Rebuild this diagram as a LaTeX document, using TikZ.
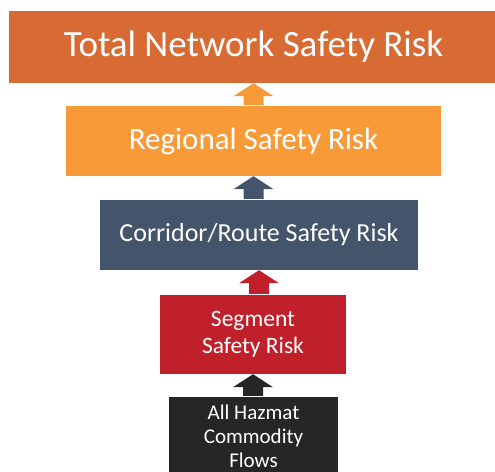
\documentclass[tikz,border=0pt]{standalone}
\usepackage{fontspec}
\setmainfont{Carlito}

\definecolor{totcol}{HTML}{D86A33}
\definecolor{regcol}{HTML}{F79A37}
\definecolor{corcol}{HTML}{44546A}
\definecolor{segcol}{HTML}{C0202A}
\definecolor{flowcol}{HTML}{262626}

\begin{document}
\begin{tikzpicture}[x=1pt,y=-1pt,
    box/.style={fill=#1, text=white, inner sep=0pt, align=center}]
        \useasboundingbox (0,0) rectangle (495,471);

        \node[box=totcol,minimum width=489pt,minimum height=72pt,font=\fontsize{37}{40}\selectfont] (tot) at (253.5,47) {Total Network Safety Risk};
        \node[box=regcol,minimum width=375pt,minimum height=70pt,font=\fontsize{31}{34}\selectfont] (reg) at (253.5,141) {Regional Safety Risk};
        \node[box=corcol,minimum width=318pt,minimum height=70pt,font=\fontsize{26}{28}\selectfont] (cor) at (259,235) {Corridor/Route Safety Risk};
        \node[box=segcol,minimum width=186pt,minimum height=79pt,font=\fontsize{23.5}{27}\selectfont] (seg) at (253,334.5) {Segment\\Safety Risk};
        \node[box=flowcol,minimum width=169pt,minimum height=78pt,font=\fontsize{21}{24}\selectfont] (flow) at (253.5,436) {All Hazmat\\Commodity\\Flows};

        % block arrows, from the lower box up to the one above
        \foreach \lo/\up/\col in {reg/tot/regcol, cor/reg/corcol, seg/cor/segcol, flow/seg/flowcol}
            \fill[\col] ([xshift=-10pt,yshift=1pt]\up.south |- \lo.north)
                -- ([xshift=-10pt,yshift=-13pt]\up.south) -- ([xshift=-20pt,yshift=-13pt]\up.south)
                -- (\up.south)
                -- ([xshift=20pt,yshift=-13pt]\up.south) -- ([xshift=10pt,yshift=-13pt]\up.south)
                -- ([xshift=10pt,yshift=1pt]\up.south |- \lo.north) -- cycle;
\end{tikzpicture}
\end{document}
